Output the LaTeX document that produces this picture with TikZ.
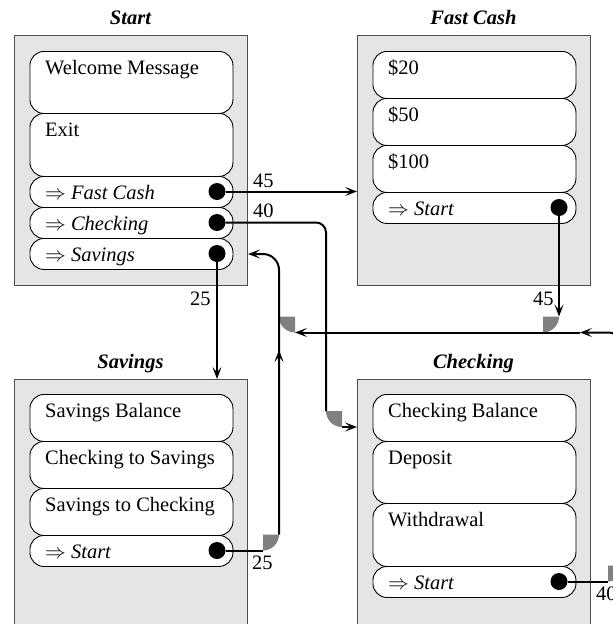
\documentclass[tikz,border=0pt]{standalone}
\usepackage{fontspec}
\setmainfont{Liberation Serif}
\usetikzlibrary{arrows.meta}

\definecolor{panelfill}{HTML}{E5E5E5}
\definecolor{panelline}{HTML}{4D4D4D}
\definecolor{cornergray}{HTML}{808080}

% one menu entry: name, left x, top y, height, text
\newcommand\menubox[5]{%
  \node[menuitem, minimum height=#4pt] (#1) at (#2,#3) {};
  \node[itemtext] (#1-txt) at (#2+15.5,#3+23) {#5};
}
\newcommand\jumpto[1]{$\Rightarrow$ \textit{#1}}

\begin{document}
\begin{tikzpicture}[
    x=1pt, y=-1pt,
    font=\fontsize{20.5}{24}\selectfont,
    >={Stealth[length=12pt,width=9pt,inset=5.5pt]},
    panel/.style={draw=panelline, fill=panelfill, line width=0.9pt,
      minimum width=233pt, minimum height=250pt, anchor=north west, inner sep=0pt},
    menuitem/.style={draw=black, fill=white, line width=0.9pt, rounded corners=14pt,
      minimum width=203pt, anchor=north west, inner sep=0pt},
    itemtext/.style={anchor=base west, inner sep=0pt},
    paneltitle/.style={anchor=base, inner sep=0pt,
      font=\fontsize{20.5}{24}\selectfont\bfseries\itshape},
    linkdot/.style={circle, fill=black, minimum size=17pt, inner sep=0pt},
    conn/.style={line width=2pt},
    bendfill/.style={fill=cornergray},
    weight/.style={anchor=base west, inner sep=0pt},
  ]
\useasboundingbox (0,0) rectangle (613,624);
\clip (0,0) rectangle (613,624);

% ---- panels and titles
\node[panel] (st) at (14,35) {};
\node[panel] (fc) at (357,35) {};
\node[panel] (sv) at (14,379) {};
\node[panel] (ck) at (357,379) {};
\node[paneltitle] (st-title) at (130.5,24) {Start};
\node[paneltitle] (fc-title) at (473.5,24) {Fast Cash};
\node[paneltitle] (sv-title) at (130.5,368) {Savings};
\node[paneltitle] (ck-title) at (473.5,368) {Checking};

% ---- Start menu
\menubox{stWelcome}{29.5}{51}{62}{Welcome Message}
\menubox{stExit}{29.5}{113}{63}{Exit}
\menubox{stFast}{29.5}{176}{31}{\jumpto{Fast Cash}}
\menubox{stCheck}{29.5}{207}{31}{\jumpto{Checking}}
\menubox{stSave}{29.5}{238}{31}{\jumpto{Savings}}

% ---- Fast Cash menu
\menubox{fc20}{372.5}{51}{47}{\$20}
\menubox{fc50}{372.5}{98}{47}{\$50}
\menubox{fc100}{372.5}{145}{47}{\$100}
\menubox{fcBack}{372.5}{192}{31}{\jumpto{Start}}

% ---- Savings menu
\menubox{svBal}{29.5}{394}{47}{Savings Balance}
\menubox{svCtoS}{29.5}{441}{47}{Checking to Savings}
\menubox{svStoC}{29.5}{488}{47}{Savings to Checking}
\menubox{svBack}{29.5}{535}{31}{\jumpto{Start}}

% ---- Checking menu
\menubox{ckBal}{372.5}{394}{47}{Checking Balance}
\menubox{ckDep}{372.5}{441}{62}{Deposit}
\menubox{ckWd}{372.5}{503}{63}{Withdrawal}
\menubox{ckBack}{372.5}{566}{31}{\jumpto{Start}}

% ---- link dots
\node[linkdot] (dFast)  at (217,191.5) {};
\node[linkdot] (dCheck) at (217,222.5) {};
\node[linkdot] (dSave)  at (217,253.5) {};
\node[linkdot] (dFcBack) at (559,207.5) {};
\node[linkdot] (dSvBack) at (217,550.5) {};
\node[linkdot] (dCkBack) at (559,581.5) {};

% ---- route waypoints
\coordinate (ckDown)  at (326,411);
\coordinate (ckIn)    at (342,427);
\coordinate (ckEnter) at (357,427);
\coordinate (svOut)   at (263,550.5);
\coordinate (svUp)    at (279,534.5);
\coordinate (svMid)   at (279,372);
\coordinate (svMidTip) at (279,350);
\coordinate (stEnter) at (248,254);
\coordinate (fcDown)  at (559,316.5);
\coordinate (cbOut)   at (608,581.5);
\coordinate (cbUp)    at (624,565.5);
\coordinate (busTip)  at (580,332.5);
\coordinate (busEnd)  at (295,332.5);

% ---- rounded bends, filled grey
\fill[bendfill] (342,411) -- (ckDown) .. controls (326,419.84) and (333.16,427) .. (ckIn) -- cycle;
\fill[bendfill] (263,534.5) -- (svOut) .. controls (271.84,550.5) and (279,543.34) .. (svUp) -- cycle;
\fill[bendfill] (543,316.5) -- (fcDown) .. controls (559,325.34) and (551.84,332.5) .. (543,332.5) -- cycle;
\fill[bendfill] (295,316.5) -- (busEnd) .. controls (286.16,332.5) and (279,325.34) .. (279,316.5) -- cycle;
\fill[bendfill] (608,565.5) -- (cbOut) .. controls (616.84,581.5) and (624,574.34) .. (cbUp) -- cycle;

% ---- connectors
\draw[conn,->] (dFast.east) -- (dFast -| fc.west);
\draw[conn, rounded corners=10pt] (dCheck.east) -- (dCheck -| ckDown) -- (ckDown);
\draw[conn,->] (ckIn) -- (ckEnter);
\draw[conn,->] (dSave.south) -- (dSave |- sv.north);
\draw[conn] (dSvBack.east) -- (svOut);
\draw[conn,->, rounded corners=16pt] (svUp) -- (svUp |- stEnter) -- (stEnter);
\draw[conn,->] (svMid) -- (svMidTip);
\draw[conn,->] (dFcBack.south) -- (fcDown);
\draw[conn] (dCkBack.east) -- (cbOut);
\draw[conn,->, rounded corners=16pt] (cbUp) -- (cbUp |- busTip) -- (busTip);
\draw[conn,->] (busTip) -- (busEnd);

% ---- weights
\node[weight] (w1) at (253,187) {45};
\node[weight] (w2) at (253,217) {40};
\node[weight] (w3) at (190,305) {25};
\node[weight] (w4) at (252,569) {25};
\node[weight] (w5) at (533,305) {45};
\node[weight] (w6) at (596,600) {40};
\end{tikzpicture}
\end{document}
